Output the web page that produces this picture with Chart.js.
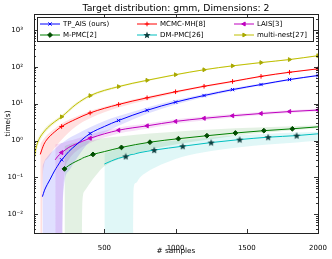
<!DOCTYPE html>
<html>
<head>
<meta charset="utf-8">
<script src="https://cdn.jsdelivr.net/npm/chart.js@4.4.0/dist/chart.umd.min.js"></script>
<style>
html, body { margin: 0; padding: 0; background: #fff; }
</style>
</head>
<body>
<canvas id="chart" width="332" height="259"></canvas>
<script>
// tick labels
const xTickVals = [500, 1000, 1500, 2000];
const yTickVals = [0.01, 0.1, 1, 10, 100, 1000];

// TP_AIS (ours)
const xB    = [65, 80, 100, 120, 150, 170, 200, 210, 250, 300, 400, 500, 600, 800, 1000, 1200, 1400, 1600, 1800, 2000];
const meanB = [0.03, 0.045, 0.065, 0.09, 0.15, 0.2, 0.3, 0.33, 0.5, 0.75, 1.55, 2.4, 3.5, 6.6, 11, 16.6, 24, 33, 45, 58];
const upB   = [0.2, 0.28, 0.36, 0.45, 0.58, 0.68, 0.85, 0.9, 1.15, 1.45, 2.3, 3.4, 4.6, 7.9, 12.5, 18.3, 26, 35, 47.5, 61];
const loB   = [1e-4, 1e-4, 1e-4, 1e-4, 1e-4, 1e-4, 1e-4, 0.03, 0.15, 0.3, 0.95, 1.6, 2.5, 5.3, 9.5, 15, 22, 31, 42.5, 55];
const markB = [200, 400, 600, 800, 1000, 1200, 1400, 1600, 1800, 2000];

// MCMC-MH[8]
const xR    = [50, 60, 65, 75, 100, 150, 200, 300, 400, 600, 800, 1000, 1200, 1400, 1600, 1800, 2000];
const meanR = [0.42, 0.55, 0.62, 0.78, 1.1, 1.7, 2.4, 3.8, 5.6, 9.5, 14.4, 21, 29.6, 40, 55, 71, 88];
const upR   = [0.8, 0.92, 0.98, 1.12, 1.45, 2.1, 2.9, 4.4, 6.3, 10.4, 15.5, 22.3, 31, 41.7, 57, 73, 91];
const loR   = [1e-4, 1e-4, 0.03, 0.2, 0.32, 0.62, 1.05, 2.4, 4.0, 7.8, 12.6, 19, 27.5, 37.5, 52, 68, 85];
const markR = [200, 400, 600, 800, 1000, 1200, 1400, 1600, 1800, 2000];

// LAIS[3]
const xM    = [155, 170, 200, 210, 250, 300, 400, 600, 800, 1000, 1200, 1400, 1600, 1800, 2000];
const meanM = [0.3, 0.36, 0.47, 0.5, 0.65, 0.8, 1.15, 1.9, 2.5, 3.3, 4.0, 4.7, 5.4, 6.1, 6.7];
const upM   = [0.78, 0.8, 0.85, 0.87, 0.98, 1.1, 1.45, 2.25, 2.9, 3.75, 4.5, 5.2, 5.9, 6.6, 7.3];
const loM   = [1e-4, 1e-4, 1e-4, 0.04, 0.3, 0.5, 0.85, 1.55, 2.1, 2.85, 3.5, 4.2, 4.9, 5.6, 6.1];
const markM = [200, 400, 600, 800, 1000, 1200, 1400, 1600, 1800, 2000];

// M-PMC[2]
const xG    = [220, 250, 300, 340, 345, 360, 420, 460, 500, 620, 820, 1020, 1220, 1420, 1620, 1820, 2000];
const meanG = [0.17, 0.21, 0.27, 0.32, 0.33, 0.35, 0.42, 0.46, 0.5, 0.65, 0.9, 1.12, 1.35, 1.6, 1.85, 2.08, 2.35];
const upG   = [0.7, 0.78, 0.88, 0.93, 0.94, 0.96, 1.04, 1.1, 1.17, 1.3, 1.55, 1.75, 1.95, 2.15, 2.3, 2.45, 2.6];
const loG   = [1e-4, 1e-4, 1e-4, 1e-4, 0.017, 0.042, 0.09, 0.14, 0.2, 0.33, 0.56, 0.8, 1.05, 1.35, 1.62, 1.9, 2.15];
const markG = [220, 420, 620, 820, 1020, 1220, 1420, 1620, 1820];

// DM-PMC[26]
const xC    = [500, 550, 600, 650, 700, 705, 720, 750, 800, 850, 1050, 1250, 1450, 1650, 1850, 2000];
const meanC = [0.23, 0.28, 0.33, 0.37, 0.42, 0.42, 0.44, 0.47, 0.51, 0.55, 0.70, 0.88, 1.06, 1.23, 1.36, 1.52];
const upC   = [0.45, 0.52, 0.6, 0.66, 0.72, 0.72, 0.74, 0.78, 0.83, 0.88, 1.03, 1.21, 1.39, 1.53, 1.64, 1.72];
const loC   = [1e-4, 1e-4, 1e-4, 1e-4, 1e-4, 0.047, 0.07, 0.1, 0.14, 0.18, 0.36, 0.52, 0.66, 0.78, 0.89, 0.98];
const markC = [650, 850, 1050, 1250, 1450, 1650, 1850];

// multi-nest[27]
const xY    = [10, 15, 20, 30, 50, 75, 100, 150, 200, 300, 400, 600, 800, 1000, 1200, 1400, 1600, 1800, 2000];
const meanY = [0.35, 0.5, 0.62, 0.85, 1.25, 1.7, 2.2, 3.2, 4.4, 9.5, 16.5, 29, 43, 61, 83, 106, 130, 157, 200];
const upY   = [0.55, 0.7, 0.85, 1.08, 1.5, 2.0, 2.55, 3.6, 4.9, 10.5, 17.8, 31, 45.5, 64, 86, 110, 134, 162, 206];
const loY   = [1e-4, 0.25, 0.42, 0.65, 1.0, 1.45, 1.9, 2.85, 3.95, 8.6, 15, 27, 40.5, 58, 80, 102, 126, 152, 194];
const markY = [200, 400, 600, 800, 1000, 1200, 1400, 1600, 1800, 2000];

const FONT = 'DejaVu Sans';
const TITLE = 'Target distribution: gmm, Dimensions: 2';

// filled star marker for DM-PMC
function starCanvas(color) {
    const c = document.createElement('canvas');
    c.width = 8; c.height = 8;
    const g = c.getContext('2d');
    g.fillStyle = color;
    g.beginPath();
    for (let i = 0; i < 10; i++) {
        const r = i % 2 === 0 ? 3.8 : 1.6;
        const a = -Math.PI / 2 + i * Math.PI / 5;
        g.lineTo(4 + r * Math.cos(a), 4.3 + r * Math.sin(a));
    }
    g.closePath();
    g.fill();
    return c;
}

const series = [
    { label: 'TP_AIS (ours)', xs: xB, mean: meanB, up: upB, lo: loB, marks: markB,
      color: '#0000ff', band: 'rgba(0,0,255,0.12)', style: 'crossRot', radius: 2.3, mfill: '#0000ff', mline: '#0000ff' },
    { label: 'M-PMC[2]', xs: xG, mean: meanG, up: upG, lo: loG, marks: markG,
      color: '#008000', band: 'rgba(0,128,0,0.11)', style: 'rectRot', radius: 2.4, mfill: '#004d00', mline: '#004d00' },
    { label: 'MCMC-MH[8]', xs: xR, mean: meanR, up: upR, lo: loR, marks: markR,
      color: '#ff0000', band: 'rgba(255,0,0,0.12)', style: 'cross', radius: 2.3, mfill: '#ff0000', mline: '#ff0000' },
    { label: 'DM-PMC[26]', xs: xC, mean: meanC, up: upC, lo: loC, marks: markC,
      color: '#00bfbf', band: 'rgba(0,191,191,0.12)', style: starCanvas('#0b3d3d'), radius: 3, mfill: '#0b3d3d', mline: '#0b3d3d' },
    { label: 'LAIS[3]', xs: xM, mean: meanM, up: upM, lo: loM, marks: markM,
      color: '#bf00bf', band: 'rgba(191,0,191,0.12)', style: 'triangle', rot: -90, radius: 2.3, mfill: '#bf00bf', mline: '#bf00bf' },
    { label: 'multi-nest[27]', xs: xY, mean: meanY, up: upY, lo: loY, marks: markY,
      color: '#bfbf00', band: 'rgba(191,191,0,0.15)', style: 'triangle', rot: 90, radius: 2.2, mfill: '#a8a800', mline: '#a8a800' }
];

const pts = (xs, ys) => xs.map((x, i) => ({ x: x, y: ys[i] }));

const lineSets = series.map(s => ({
    label: s.label,
    data: pts(s.xs, s.mean),
    borderColor: s.color,
    borderWidth: 1,
    fill: false,
    cubicInterpolationMode: 'monotone',
    pointStyle: s.style,
    pointRotation: s.rot || 0,
    pointRadius: c => s.marks.includes(c.raw.x) ? s.radius : 0,
    pointBackgroundColor: s.mfill,
    pointBorderColor: s.mline,
    pointBorderWidth: 1
}));

const bandSets = [];
series.forEach(s => {
    const upIdx = lineSets.length + bandSets.length;
    bandSets.push({
        data: pts(s.xs, s.up), borderWidth: 0, pointRadius: 0, fill: false,
        cubicInterpolationMode: 'monotone'
    });
    bandSets.push({
        data: pts(s.xs, s.lo), borderWidth: 0, pointRadius: 0, fill: upIdx,
        backgroundColor: s.band, cubicInterpolationMode: 'monotone'
    });
});

const sup = { '-': '\u207B', '0': '\u2070', '1': '\u00B9', '2': '\u00B2', '3': '\u00B3' };
const powLabel = v => '10' + String(Math.round(Math.log10(v))).split('').map(ch => sup[ch]).join('');

// inward ticks on all four sides + frame, matplotlib style
const frameTicks = {
    id: 'frameTicks',
    afterDatasetsDraw(chart) {
        const { ctx, chartArea: a, scales: { x, y } } = chart;
        ctx.save();
        ctx.strokeStyle = '#000';
        ctx.lineWidth = 0.8;
        const seg = (x1, y1, x2, y2) => { ctx.beginPath(); ctx.moveTo(x1, y1); ctx.lineTo(x2, y2); ctx.stroke(); };
        for (let e = -3; e <= 3; e++) {
            for (let m = 1; m <= 9; m++) {
                const v = m * Math.pow(10, e);
                if (v < y.min || v > y.max) continue;
                const py = Math.round(y.getPixelForValue(v)) + 0.5;
                const len = m === 1 ? 4 : 2;
                seg(a.left, py, a.left + len, py);
                seg(a.right, py, a.right - len, py);
            }
        }
        xTickVals.forEach(v => {
            const px = Math.round(x.getPixelForValue(v)) + 0.5;
            seg(px, a.bottom, px, a.bottom - 4);
            seg(px, a.top, px, a.top + 4);
        });
        ctx.strokeStyle = '#222';
        ctx.lineWidth = 1;
        ctx.strokeRect(Math.round(a.left) + 0.5, Math.round(a.top) + 0.5,
            Math.round(a.right - a.left), Math.round(a.bottom - a.top));
        ctx.restore();
    }
};

// title over the axes + legend inside the axes, 3 columns filled column-wise
const boxLegend = {
    id: 'boxLegend',
    afterDraw(chart) {
        const { ctx, chartArea: a } = chart;
        ctx.save();
        ctx.fillStyle = '#000';
        ctx.font = '9.3px "' + FONT + '"';
        ctx.textAlign = 'center';
        ctx.textBaseline = 'middle';
        ctx.fillText(TITLE, (a.left + a.right) / 2, 8.5);

        const bx = 37.5, by = 17.5, bw = 276, bh = 24;
        ctx.fillStyle = '#fff';
        ctx.fillRect(bx, by, bw, bh);
        ctx.strokeStyle = '#222';
        ctx.lineWidth = 1;
        ctx.strokeRect(bx, by, bw, bh);
        ctx.font = '7px "' + FONT + '"';
        ctx.textAlign = 'left';
        series.forEach((s, i) => {
            const col = Math.floor(i / 2), row = i % 2;
            const x0 = 40 + col * 97, yy = 24 + row * 11;
            ctx.strokeStyle = s.color;
            ctx.lineWidth = 1;
            ctx.beginPath(); ctx.moveTo(x0, yy); ctx.lineTo(x0 + 20, yy); ctx.stroke();
            ctx.fillStyle = s.mfill;
            ctx.strokeStyle = s.mline;
            Chart.helpers.drawPoint(ctx, { pointStyle: s.style, rotation: s.rot || 0, radius: s.radius, borderWidth: 1 }, x0 + 10, yy);
            ctx.fillStyle = '#000';
            ctx.fillText(s.label, x0 + 23, yy + 0.5);
        });
        ctx.restore();
    }
};

new Chart(document.getElementById('chart'), {
    type: 'line',
    data: { datasets: lineSets.concat(bandSets) },
    options: {
        responsive: false,
        animation: false,
        devicePixelRatio: 1,
        layout: { padding: { left: 0, right: 14, top: 14, bottom: 0 } },
        plugins: {
            legend: { display: false },
            tooltip: { enabled: false },
            title: { display: false }
        },
        scales: {
            x: {
                type: 'linear',
                min: 6,
                max: 2000,
                grid: { display: false },
                border: { display: false },
                afterBuildTicks: s => { s.ticks = xTickVals.map(v => ({ value: v })); },
                afterFit: s => { s.height = 26; },
                ticks: { color: '#000', font: { family: FONT, size: 7 }, padding: 3, maxRotation: 0, autoSkip: false,
                         callback: v => String(v) },
                title: { display: true, text: '# samples', color: '#000', font: { family: FONT, size: 7.3 }, padding: { top: 0, bottom: 4 } }
            },
            y: {
                type: 'logarithmic',
                min: 0.0031,
                max: 2700,
                grid: { display: false },
                border: { display: false },
                afterBuildTicks: s => { s.ticks = yTickVals.map(v => ({ value: v })); },
                afterFit: s => { s.width = 34; },
                ticks: { color: '#000', font: { family: FONT, size: 7 }, padding: 3, autoSkip: false,
                         callback: v => powLabel(v) },
                title: { display: true, text: 'time(s)', color: '#000', font: { family: FONT, size: 7.3 }, padding: { top: 4, bottom: 0 } }
            }
        }
    },
    plugins: [frameTicks, boxLegend]
});
</script>
</body>
</html>
